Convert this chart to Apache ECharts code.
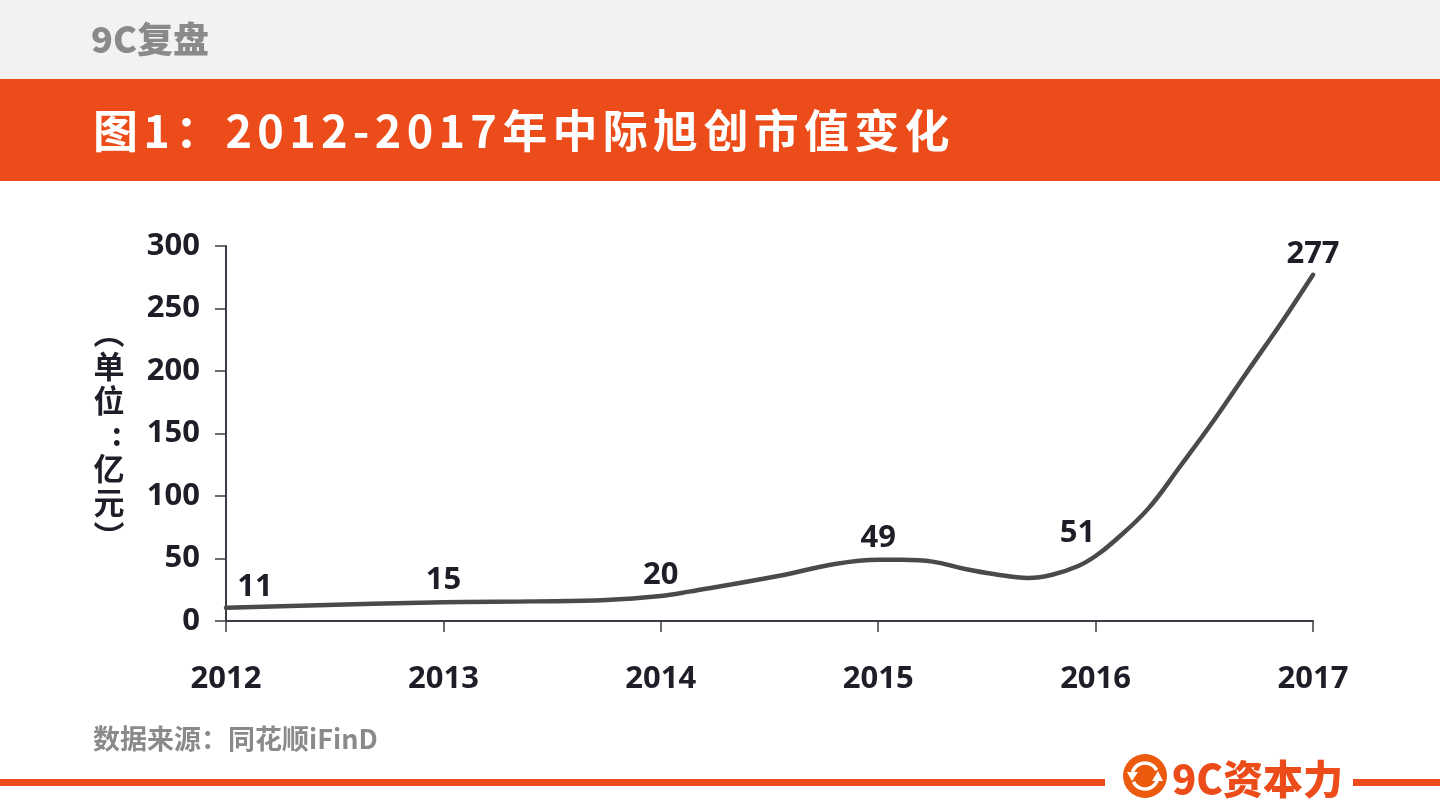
<!DOCTYPE html>
<html><head><meta charset="utf-8">
<script src="https://cdn.jsdelivr.net/npm/echarts@6/dist/echarts.min.js"></script>
<style>html,body{margin:0;padding:0;background:#fff}#c{width:1440px;height:810px}</style>
</head><body><div id="c"></div>
<script>
// Annual values as labelled in the chart
const years = [2012, 2013, 2014, 2015, 2016, 2017];
const labelledValues = [11, 15, 20, 49, 51, 277];
// Curve trace (fractional year, value)
const curveYears = [2012, 2013, 2013.41, 2013.75, 2014, 2014.13, 2014.54, 2014.8, 2015, 2015.11, 2015.25, 2015.4, 2015.53, 2015.69, 2015.8, 2015.92, 2016, 2016.08, 2016.24, 2016.39, 2016.55, 2016.7, 2016.86, 2017];
const curveValues = [10.6, 15, 15.7, 16.8, 20, 23.5, 36, 45.6, 49, 49, 47.5, 41.6, 37.6, 34.4, 37, 44, 52, 63, 89.5, 124, 162, 200, 240, 277];
const yTicks = {min: 0, max: 300, interval: 50};
const labelOffsets = [[29, -21], [0, -22], [0, -21], [0, -22], [-18, -23], [0, -21]];
const titleText = '图1：2012-2017年中际旭创市值变化';
const headerText = '9C复盘';
const sourceText = '数据来源：同花顺iFinD';
const brandText = '9C资本力';
const unitText = '︵\n单\n位\n\u2002:\n亿\n元\n︶';

const font = '"Noto Sans CJK SC","Noto Sans",sans-serif';
const numFont = '"Noto Sans","Noto Sans CJK SC",sans-serif';
const orange = '#eb4c19', ink = '#1e1e28';
const chart = echarts.init(document.getElementById('c'));
// title sits on its own canvas layer so that it can carry letter spacing
chart.getZr().painter.getLayer(5).ctx.letterSpacing = '5.3px';
chart.setOption({
  animation: false,
  backgroundColor: '#fff',
  grid: {left: 226, right: 127, top: 246, bottom: 189},
  xAxis: {type: 'value', min: 2012, max: 2017, interval: 1, splitLine: {show: false},
    axisLine: {lineStyle: {color: '#3c3c46', width: 2}},
    axisTick: {show: true, length: 11, lineStyle: {color: '#3c3c46', width: 1.5}},
    axisLabel: {margin: 43, color: ink, fontFamily: numFont, fontWeight: 700, fontSize: 31, formatter: v => String(v)}},
  yAxis: {type: 'value', min: yTicks.min, max: yTicks.max, interval: yTicks.interval, splitLine: {show: false},
    axisLine: {show: true, lineStyle: {color: '#3c3c46', width: 2}},
    axisTick: {show: true, length: 11, lineStyle: {color: '#3c3c46', width: 1.5}},
    axisLabel: {margin: 26, color: ink, fontFamily: numFont, fontWeight: 700, fontSize: 31}},
  series: [
    {type: 'line', data: curveYears.map((y, i) => [y, curveValues[i]]), smooth: 0.4,
     showSymbol: false, lineStyle: {color: '#4a4a4a', width: 4.5, cap: 'round'}, silent: true, z: 2},
    {type: 'scatter', symbolSize: 0, z: 3, itemStyle: {opacity: 1},
     data: years.map((y, i) => ({
       value: [y, curveValues[curveYears.indexOf(y)]],
       label: {show: true, position: 'inside', offset: labelOffsets[i], formatter: String(labelledValues[i]),
         color: ink, fontFamily: numFont, fontWeight: 700, fontSize: 31}}))}
  ],
  graphic: [
    {type: 'rect', z: -10, shape: {x: 0, y: 0, width: 1440, height: 79}, style: {fill: '#f2f2f2'}},
    {type: 'rect', z: -10, shape: {x: 0, y: 79, width: 1440, height: 102}, style: {fill: orange}},
    {type: 'text', x: 91, y: 39, style: {text: headerText, fill: '#8a8a8a', font: '900 36px ' + font, textVerticalAlign: 'middle'}},
    {type: 'text', zlevel: 5, x: 93, y: 131, style: {text: titleText, fill: '#fff', font: '700 45px ' + font, textVerticalAlign: 'middle'}},
    {type: 'text', x: 109, y: 434, style: {text: unitText, fill: ink, font: '700 31px ' + font, lineHeight: 34, align: 'center', textVerticalAlign: 'middle'}},
    {type: 'text', x: 93, y: 739, style: {text: sourceText, fill: '#8a8a8a', font: '700 27px ' + font, textVerticalAlign: 'middle'}},
    {type: 'rect', shape: {x: 0, y: 779, width: 1105, height: 7}, style: {fill: orange}},
    {type: 'rect', shape: {x: 1353, y: 779, width: 87, height: 7}, style: {fill: orange}},
    {type: 'circle', shape: {cx: 1145, cy: 776, r: 22}, style: {fill: '#ec5a0e'}},
    {type: 'arc', shape: {cx: 1145, cy: 776, r: 13, startAngle: Math.PI * 1.1, endAngle: Math.PI * 1.85}, style: {stroke: '#fff', lineWidth: 3.5, fill: null}},
    {type: 'arc', shape: {cx: 1145, cy: 776, r: 13, startAngle: Math.PI * 0.1, endAngle: Math.PI * 0.85}, style: {stroke: '#fff', lineWidth: 3.5, fill: null}},
    {type: 'polygon', shape: {points: [[1127, 772], [1138, 772], [1132, 781]]}, style: {fill: '#fff'}},
    {type: 'polygon', shape: {points: [[1152, 781], [1163, 781], [1158, 771]]}, style: {fill: '#fff'}},
    {type: 'text', x: 1172, y: 779, style: {text: brandText, fill: orange, font: '900 40px ' + font, textVerticalAlign: 'middle'}}
  ]
});
</script></body></html>
